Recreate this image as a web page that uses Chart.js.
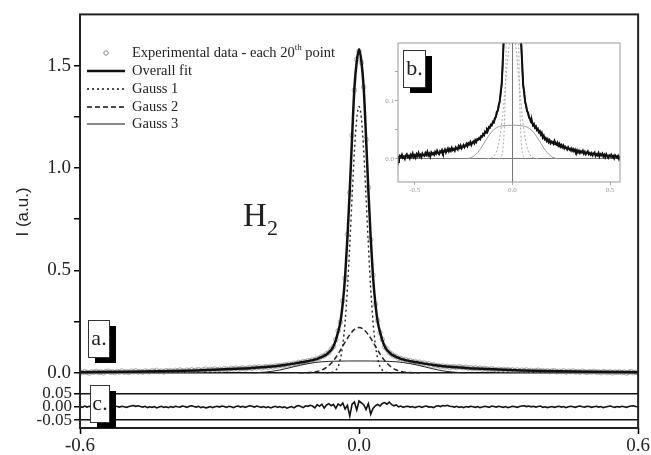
<!DOCTYPE html>
<html>
<head>
<meta charset="utf-8">
<script src="https://cdn.jsdelivr.net/npm/chart.js@4.4.1/dist/chart.umd.min.js"></script>
<style>
  html,body{margin:0;padding:0;background:#fff;}
  #wrap{position:relative;width:651px;height:455px;}
  #main{position:absolute;left:0;top:0;}
  #inset{position:absolute;left:380px;top:30px;}
</style>
</head>
<body>
<div id="wrap">
  <canvas id="main" width="651" height="455"></canvas>
  <canvas id="inset" width="260" height="170"></canvas>
</div>
<script>
/* ------------ data ------------ */
// experimental points: x = DATA_X0 + i*DATA_DX
const DATA_X0 = -0.6, DATA_DX = 0.005;
const expData = [
  0.004,0.001,0.006,0.002,-0.001,0.005,0.003,0.007,0.002,0.004,
  0.000,0.006,0.008,0.003,0.005,0.001,0.007,0.004,0.009,0.003,
  0.006,0.002,0.008,0.005,0.010,0.004,0.007,0.003,0.009,0.006,
  0.005,0.010,0.007,0.012,0.006,0.009,0.004,0.011,0.008,0.010,
  0.007,0.012,0.009,0.014,0.010,0.008,0.013,0.011,0.015,0.010,
  0.013,0.016,0.011,0.015,0.018,0.013,0.017,0.014,0.019,0.015,
  0.017,0.014,0.020,0.018,0.016,0.022,0.019,0.023,0.018,0.021,
  0.024,0.020,0.023,0.026,0.022,0.027,0.025,0.029,0.024,0.028,
  0.030,0.027,0.032,0.029,0.034,0.033,0.036,0.034,0.039,0.038,
  0.043,0.041,0.047,0.045,0.051,0.049,0.055,0.054,0.059,0.058,
  0.064,0.063,0.070,0.072,0.081,0.083,0.093,0.099,0.115,0.128,
  0.163,0.205,0.248,0.352,0.462,0.675,0.880,1.160,1.380,1.530,
  1.570,
  1.515,1.395,1.140,0.905,0.650,0.478,0.335,0.256,0.197,0.164,
  0.127,0.116,0.098,0.092,0.082,0.080,0.071,0.070,0.063,0.065,
  0.058,0.060,0.054,0.056,0.050,0.052,0.046,0.048,0.042,0.045,
  0.037,0.040,0.034,0.036,0.031,0.034,0.029,0.032,0.027,0.030,
  0.029,0.026,0.031,0.027,0.025,0.028,0.023,0.026,0.021,0.024,
  0.020,0.023,0.018,0.021,0.019,0.016,0.020,0.017,0.015,0.018,
  0.014,0.017,0.013,0.016,0.012,0.015,0.011,0.014,0.010,0.013,
  0.011,0.014,0.009,0.012,0.008,0.011,0.013,0.008,0.010,0.007,
  0.010,0.006,0.009,0.011,0.005,0.008,0.006,0.010,0.004,0.008,
  0.006,0.009,0.004,0.007,0.003,0.008,0.005,0.002,0.006,0.004,
  0.007,0.003,0.005,0.001,0.006,0.004,0.002,0.005,0.000,0.004,
  0.002,0.005,0.001,0.004,-0.001,0.003,0.006,0.001,0.003,0.000
];
const residual = [
  0.001,-0.002,0.003,-0.001,0.002,0.000,-0.003,0.002,0.001,-0.002,
  0.002,0.004,-0.001,0.001,-0.002,0.003,0.001,-0.001,0.002,0.000,
  -0.002,0.001,0.003,0.005,0.002,0.004,0.001,-0.001,0.002,-0.003,
  0.000,-0.002,0.001,-0.004,-0.001,0.002,-0.002,0.000,-0.003,0.001,
  -0.002,0.002,0.000,-0.001,0.003,0.001,-0.002,0.002,0.004,0.001,
  -0.001,0.002,-0.003,0.000,-0.004,-0.002,0.001,-0.003,0.000,0.002,
  -0.001,0.003,0.001,-0.002,0.002,0.000,-0.003,0.001,0.003,-0.001,
  0.002,-0.002,0.001,0.004,0.002,-0.001,0.003,0.000,-0.002,0.001,
  -0.003,0.000,-0.004,-0.001,0.002,-0.002,0.001,-0.003,0.000,-0.005,
  -0.002,0.001,-0.004,0.002,0.005,0.001,-0.003,0.004,0.002,0.006,
  0.003,-0.004,0.008,0.002,0.010,-0.005,0.007,0.012,0.004,0.009,
  -0.006,0.011,0.004,0.014,-0.008,0.006,-0.035,0.010,0.018,-0.012,
  0.022,
  0.015,0.008,-0.010,0.012,-0.028,-0.006,0.004,0.009,0.003,0.013,
  0.016,0.010,0.018,0.008,0.004,0.007,0.000,0.003,-0.002,0.001,
  0.002,-0.001,0.001,-0.003,0.000,0.002,-0.002,0.001,0.003,-0.001,
  0.000,-0.003,0.002,0.004,0.001,0.005,0.003,0.006,0.002,0.001,
  -0.001,0.002,-0.002,0.000,-0.003,0.001,-0.001,0.002,0.000,-0.002,
  0.001,-0.003,-0.001,0.002,0.000,-0.002,0.003,0.001,-0.001,0.002,
  0.000,-0.002,0.001,-0.003,-0.001,0.002,0.000,-0.002,0.001,0.003,
  0.004,0.001,0.003,0.000,0.002,-0.001,0.001,0.003,-0.002,0.000,
  -0.003,-0.001,0.001,-0.002,0.000,0.002,-0.001,0.001,-0.003,0.000,
  0.002,0.000,-0.002,0.001,0.003,0.000,-0.001,0.002,0.001,-0.002,
  0.000,0.002,-0.001,0.001,-0.003,-0.001,0.001,0.003,0.000,-0.002,
  0.001,-0.001,0.002,0.000,-0.002,0.001,0.003,0.004,0.001,0.000
];

// overall fit
const fitX = [-0.6,-0.5,-0.4,-0.35,-0.3,-0.25,-0.2,-0.16,-0.14,-0.12,-0.1,-0.09,-0.08,-0.07,-0.06,-0.055,-0.05,-0.045,-0.04,-0.035,-0.03,-0.025,-0.02,-0.015,-0.01,-0.005,
              0,0.005,0.01,0.015,0.02,0.025,0.03,0.035,0.04,0.045,0.05,0.055,0.06,0.07,0.08,0.09,0.1,0.12,0.14,0.16,0.2,0.25,0.3,0.35,0.4,0.5,0.6];
const fitY = [0.003,0.005,0.009,0.012,0.016,0.021,0.028,0.038,0.045,0.053,0.062,0.068,0.078,0.090,0.112,0.130,0.160,0.200,0.250,0.340,0.470,0.660,0.890,1.150,1.390,1.520,
              1.580,1.520,1.390,1.150,0.890,0.660,0.470,0.340,0.250,0.200,0.160,0.130,0.112,0.090,0.078,0.068,0.062,0.053,0.045,0.038,0.028,0.021,0.016,0.012,0.009,0.005,0.003];
// Gauss 1 (narrow)
const g1X = [-0.07,-0.06,-0.055,-0.05,-0.045,-0.04,-0.035,-0.03,-0.025,-0.02,-0.015,-0.01,-0.005,0,0.005,0.01,0.015,0.02,0.025,0.03,0.035,0.04,0.045,0.05,0.055,0.06,0.07];
const g1Y = [0,0.002,0.005,0.013,0.031,0.069,0.137,0.249,0.413,0.624,0.860,1.082,1.242,1.300,1.242,1.082,0.860,0.624,0.413,0.249,0.137,0.069,0.031,0.013,0.005,0.002,0];
// Gauss 2 (medium)
const g2X = [-0.13,-0.1,-0.09,-0.08,-0.07,-0.06,-0.05,-0.04,-0.03,-0.02,-0.01,0,0.01,0.02,0.03,0.04,0.05,0.06,0.07,0.08,0.09,0.1,0.13];
const g2Y = [0,0.003,0.007,0.014,0.027,0.047,0.075,0.111,0.150,0.186,0.212,0.221,0.212,0.186,0.150,0.111,0.075,0.047,0.027,0.014,0.007,0.003,0];
// Gauss 3 (broad)
const g3X = [-0.23,-0.2,-0.17,-0.14,-0.11,-0.08,-0.05,0,0.05,0.08,0.11,0.14,0.17,0.2,0.23];
const g3Y = [0,0.004,0.014,0.030,0.045,0.054,0.057,0.058,0.057,0.054,0.045,0.030,0.014,0.004,0];

const mainYTicks  = [0,0.25,0.5,0.75,1.0,1.25,1.5];
const resYTicks   = [-0.05,0,0.05];
const mainXTicks  = [-0.6,0,0.6];
const insetXTicks = [-0.5,0,0.5];
const insetYTicks = [0,0.05,0.1,0.15];

/* ------------ helpers ------------ */
const pairs = (xs,ys)=>xs.map((x,i)=>({x,y:ys[i]}));
const onGrid = ys=>ys.map((y,i)=>({x:+(DATA_X0+i*DATA_DX).toFixed(3),y}));
const SERIF = '"Liberation Serif","DejaVu Serif",serif';
const fixTicks = list => s => { s.ticks = list.map(v=>({value:v})); };
const isHalf = v => Math.abs(v*2-Math.round(v*2))<1e-9;

const framePlugin = color => ({
  id:'frame',
  afterDraw(c){
    const {ctx,chartArea:a}=c;
    ctx.save();ctx.strokeStyle=color.c;ctx.lineWidth=color.w;
    ctx.strokeRect(a.left,a.top,a.right-a.left,a.bottom-a.top);
    ctx.restore();
  }
});

function tagBox(ctx,x,y,w,h,text){
  ctx.save();
  ctx.fillStyle='#000';ctx.fillRect(x+7,y+6,w,h);
  ctx.fillStyle='#fff';ctx.fillRect(x,y,w,h);
  ctx.strokeStyle='#333';ctx.lineWidth=1;ctx.strokeRect(x+0.5,y+0.5,w,h);
  ctx.fillStyle='#222';ctx.font='22px '+SERIF;ctx.textAlign='center';ctx.textBaseline='middle';
  ctx.fillText(text,x+w/2+0.5,y+h/2+1);
  ctx.restore();
}

/* ------------ main chart decorations ------------ */
const decoPlugin = {
  id:'deco',
  afterDraw(c){
    const ctx=c.ctx;
    ctx.save();
    // legend
    const lx0=87,lx1=125,tx=132,rows=[53,71,89,107,124];
    ctx.font='14.5px '+SERIF;ctx.fillStyle='#222';ctx.textBaseline='middle';ctx.textAlign='left';
    ctx.strokeStyle='#888';ctx.lineWidth=1;
    ctx.beginPath();ctx.arc(106,rows[0],2.2,0,Math.PI*2);ctx.stroke();
    let t='Experimental data - each 20';
    ctx.fillText(t,tx,rows[0]);
    let w=ctx.measureText(t).width;
    ctx.font='9px '+SERIF;ctx.fillText('th',tx+w,rows[0]-5);
    const w2=ctx.measureText('th').width;
    ctx.font='14.5px '+SERIF;ctx.fillText(' point',tx+w+w2,rows[0]);
    const styles=[[2.5,[]],[1.3,[2,3]],[1.5,[5,3]],[1,[]]];
    ['Overall fit','Gauss 1','Gauss 2','Gauss 3'].forEach((lab,i)=>{
      const y=rows[i+1];
      ctx.strokeStyle='#111';ctx.lineWidth=styles[i][0];ctx.setLineDash(styles[i][1]);
      ctx.beginPath();ctx.moveTo(lx0,y);ctx.lineTo(lx1,y);ctx.stroke();
      ctx.setLineDash([]);
      ctx.fillText(lab,tx,y);
    });
    // H2 label
    ctx.font='33px '+SERIF;ctx.textBaseline='alphabetic';
    ctx.fillText('H',243,226);
    ctx.font='22px '+SERIF;
    ctx.fillText('2',267,235);
    // y title
    ctx.translate(23,212);ctx.rotate(-Math.PI/2);
    ctx.font='17px "Liberation Sans",Arial,sans-serif';ctx.textAlign='center';ctx.textBaseline='middle';
    ctx.fillText('I (a.u.)',0,0);
    ctx.restore();
    tagBox(ctx,88,320,21,37,'a.');
    tagBox(ctx,90,385,19,37,'c.');
  }
};

/* ------------ main chart ------------ */
new Chart(document.getElementById('main'),{
  type:'line',
  data:{datasets:[
    {label:'Overall fit',data:pairs(fitX,fitY),borderColor:'#111',borderWidth:2.5,pointRadius:0,cubicInterpolationMode:'monotone',order:1,yAxisID:'y'},
    {label:'Gauss 1',data:pairs(g1X,g1Y),borderColor:'#222',borderWidth:1.4,borderDash:[2,3],pointRadius:0,cubicInterpolationMode:'monotone',order:2,yAxisID:'y'},
    {label:'Gauss 2',data:pairs(g2X,g2Y),borderColor:'#222',borderWidth:1.5,borderDash:[5,3],pointRadius:0,cubicInterpolationMode:'monotone',order:2,yAxisID:'y'},
    {label:'Gauss 3',data:pairs(g3X,g3Y),borderColor:'#222',borderWidth:1,pointRadius:0,cubicInterpolationMode:'monotone',order:2,yAxisID:'y'},
    {label:'Experimental data',data:onGrid(expData),showLine:false,pointRadius:2.3,pointBorderWidth:1,
     pointBorderColor:'rgba(125,125,125,0.6)',pointBackgroundColor:'rgba(255,255,255,0)',order:5,yAxisID:'y'},
    {label:'Residual',data:onGrid(residual),borderColor:'#111',borderWidth:1.6,pointRadius:0,order:1,yAxisID:'yr'}
  ]},
  options:{
    responsive:false,animation:false,
    layout:{padding:{top:8,right:11,left:0,bottom:0}},
    plugins:{legend:{display:false},tooltip:{enabled:false}},
    scales:{
      x:{type:'linear',min:-0.6,max:0.6,afterBuildTicks:fixTicks(mainXTicks),
         ticks:{font:{family:SERIF,size:19},color:'#222',padding:1,maxRotation:0,autoSkip:false,callback:v=>v.toFixed(1)},
         grid:{drawOnChartArea:false,tickColor:'#000',tickLength:6,tickWidth:1.5},border:{display:false},
         afterFit:s=>{s.height=27;}},
      yr:{type:'linear',position:'left',stack:'left',stackWeight:43,min:-0.08,max:0.08,afterBuildTicks:fixTicks(resYTicks),
         ticks:{font:{family:SERIF,size:17},color:'#222',padding:2,autoSkip:false,callback:v=>v.toFixed(2)},
         grid:{color:c=>c.tick&&c.tick.value!==0?'#111':'rgba(0,0,0,0)',lineWidth:1.5,tickColor:'#000',tickLength:6,tickWidth:1.5},
         border:{display:false},
         afterFit:s=>{s.width=80;}},
      y:{type:'linear',position:'left',stack:'left',stackWeight:377,min:-0.0625,max:1.75,afterBuildTicks:fixTicks(mainYTicks),
         ticks:{font:{family:SERIF,size:19},color:'#222',padding:3,autoSkip:false,callback:v=>isHalf(v)?v.toFixed(1):''},
         grid:{color:c=>c.tick&&c.tick.value===0?'#111':'rgba(0,0,0,0)',lineWidth:1.5,tickColor:'#000',tickLength:6,tickWidth:1.5},
         border:{display:false},
         afterFit:s=>{s.width=80;}}
    }
  },
  plugins:[framePlugin({c:'#222',w:2}),decoPlugin]
});

/* ------------ inset chart ------------ */
new Chart(document.getElementById('inset'),{
  type:'line',
  data:{datasets:[
    {data:onGrid(expData),borderColor:'#111',borderWidth:2,pointRadius:0,order:1},
    {data:pairs(fitX,fitY),borderColor:'#222',borderWidth:1.5,pointRadius:0,cubicInterpolationMode:'monotone',order:2},
    {data:pairs(g1X,g1Y),borderColor:'#aaa',borderWidth:1,borderDash:[2,2],pointRadius:0,cubicInterpolationMode:'monotone',order:3},
    {data:pairs(g2X,g2Y),borderColor:'#aaa',borderWidth:1,borderDash:[2,2],pointRadius:0,cubicInterpolationMode:'monotone',order:3},
    {data:pairs(g3X,g3Y),borderColor:'#999',borderWidth:1,pointRadius:0,cubicInterpolationMode:'monotone',order:3}
  ]},
  options:{
    responsive:false,animation:false,
    layout:{padding:{top:13,right:20,left:0,bottom:0}},
    plugins:{legend:{display:false},tooltip:{enabled:false}},
    scales:{
      x:{type:'linear',min:-0.585,max:0.55,afterBuildTicks:fixTicks(insetXTicks),
         ticks:{font:{family:SERIF,size:7},color:'#999',padding:1,maxRotation:0,autoSkip:false,callback:v=>v.toFixed(1)},
         grid:{color:c=>c.tick&&c.tick.value===0?'#777':'rgba(0,0,0,0)',lineWidth:1,tickColor:'#aaa',tickLength:3},
         border:{display:false},afterFit:s=>{s.height=18;}},
      y:{type:'linear',min:-0.04,max:0.2,afterBuildTicks:fixTicks(insetYTicks),
         ticks:{font:{family:SERIF,size:7},color:'#999',padding:1,autoSkip:false,callback:v=>Math.abs(v*10-Math.round(v*10))<1e-9?v.toFixed(1):''},
         grid:{color:c=>c.tick&&c.tick.value===0?'#777':'rgba(0,0,0,0)',lineWidth:1,tickColor:'#aaa',tickLength:3},
         border:{display:false},afterFit:s=>{s.width=18;}}
    }
  },
  plugins:[framePlugin({c:'#999',w:1}),{id:'btag',afterDraw(c){tagBox(c.ctx,23,20,22,37,'b.');}}]
});
</script>
</body>
</html>
